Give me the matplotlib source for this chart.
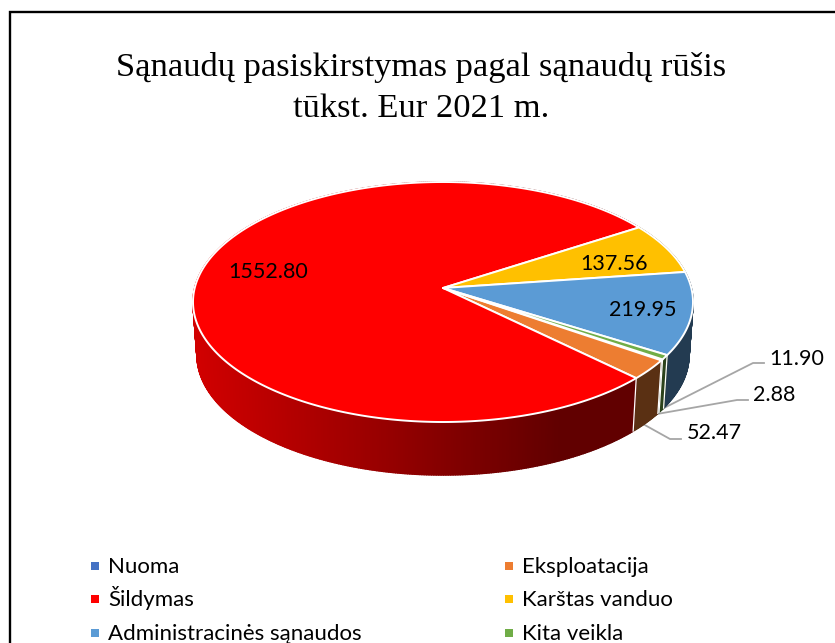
import numpy as np
import matplotlib
matplotlib.use("Agg")
import matplotlib.pyplot as plt
from matplotlib.patches import Polygon
from matplotlib.collections import PolyCollection
from matplotlib.colors import to_rgb

categories = ["Nuoma", "Eksploatacija", "Šildymas", "Karštas vanduo",
              "Administracinės sąnaudos", "Kita veikla"]
values = [2.88, 52.47, 1552.80, 137.56, 219.95, 11.90]
value_labels = ["2.88", "52.47", "1552.80", "137.56", "219.95", "11.90"]
colors = ["#4472C4", "#ED7D31", "#FF0000", "#FFC000", "#5B9BD5", "#70AD47"]
title = "Sąnaudų pasiskirstymas pagal sąnaudų rūšis\ntūkst. Eur 2021 m."

W, H = 835, 643
CX, CY, RX, RY = 443.0, 302.0, 250.0, 120.0
BX, BY, BRX, BRY = 443.0, 355.0, 246.0, 120.0
K = 14.0 / 120.0          # perspective: apex shift
START = -34.3


def project(theta, cx, cy, rx, ry):
    t = np.radians(theta)
    d = 1 + K * np.sin(t)
    u = np.cos(t) * np.sqrt(1 - K ** 2) / d
    v = (np.sin(t) + K) / d
    return cx + rx * u, cy - ry * v


def shade(x):
    f = np.clip((x - 193.0) / (560.0 - 193.0), 0, 1)
    return 0.82 + (0.38 - 0.82) * f


fig = plt.figure(figsize=(W / 100, H / 100), dpi=100)
ax = fig.add_axes([0, 0, 1, 1])
ax.set_xlim(0, W)
ax.set_ylim(H, 0)
ax.axis("off")

# chart frame (left and top edges are visible)
ax.plot([9.5, 9.5, W], [H, 11.5, 11.5], color="black", lw=1.7, zorder=1,
        solid_joinstyle="miter")

# leader lines
GRAY = "#A6A6A6"
ax.plot([660, 753, 764], [410, 363, 363], color=GRAY, lw=1.3, zorder=2)
ax.plot([657, 737, 748], [414, 400, 400], color=GRAY, lw=1.3, zorder=2)
ax.plot([643, 670, 681], [424, 439, 439], color=GRAY, lw=1.3, zorder=2)

# slice angles (clockwise)
spans = np.array(values) / np.sum(values) * 360.0
ends = START - np.cumsum(spans)
starts = np.concatenate([[START], ends[:-1]])

# side walls
quads, qcols = [], []
for a, b, c in zip(starts, ends, colors):
    n = max(2, int(abs(a - b) * 2))
    ts = np.linspace(a, b, n + 1)
    for t0, t1 in zip(ts[:-1], ts[1:]):
        x0, y0 = project(t0, CX, CY, RX, RY)
        x1, y1 = project(t1, CX, CY, RX, RY)
        x2, y2 = project(t1, BX, BY, BRX, BRY)
        x3, y3 = project(t0, BX, BY, BRX, BRY)
        quads.append([(x0, y0), (x1, y1), (x2, y2), (x3, y3)])
        s = shade((x0 + x1) / 2)
        qcols.append(tuple(s * ch for ch in to_rgb(c)))
ax.add_collection(PolyCollection(quads, facecolors=qcols, edgecolors=qcols,
                                 linewidths=1.1, zorder=3))

# white separators on the wall
for t in list(starts):
    if np.sin(np.radians(t)) < -0.1:
        x0, y0 = project(t, CX, CY, RX, RY)
        x1, y1 = project(t, BX, BY, BRX, BRY)
        ax.plot([x0, x1], [y0, y1], color="white", lw=0.9, zorder=4)

# top faces
apex = (CX, CY - RY * K)
for a, b, c in zip(starts, ends, colors):
    n = max(2, int(abs(a - b) * 2))
    ts = np.linspace(a, b, n + 1)
    xs, ys = project(ts, CX, CY, RX, RY)
    pts = [apex] + list(zip(xs, ys))
    ax.add_patch(Polygon(pts, closed=True, facecolor=c, edgecolor="white",
                         lw=1.4, joinstyle="round", zorder=5))

# data labels
LF = dict(family="Lato", fontsize=15.5, color="black", zorder=6, va="center")
ax.text(268, 272.5, value_labels[2], ha="center", **LF)
ax.text(614, 264.5, value_labels[3], ha="center", **LF)
ax.text(643, 310.5, value_labels[4], ha="center", **LF)
ax.text(769, 359, value_labels[5], ha="left", **LF)
ax.text(753, 395, value_labels[0], ha="left", **LF)
ax.text(687, 433, value_labels[1], ha="left", **LF)

# title
ax.text(421, 88, title, family="Liberation Serif", fontsize=24.8, ha="center",
        va="center", linespacing=1.45, color="black", zorder=6)

# legend, row by row
col_x = [94.5, 508.5]
row_y = [566, 599, 632.5]
for i, (name, c) in enumerate(zip(categories, colors)):
    x = col_x[i % 2]
    y = row_y[i // 2]
    ax.scatter([x], [y], marker="s", s=32, color=c, linewidths=0, zorder=6)
    ax.text(x + 13.5, y + 7, name, family="Lato", fontsize=16, color="black",
            ha="left", va="baseline", zorder=6)

fig.savefig("out.png", dpi=100)
